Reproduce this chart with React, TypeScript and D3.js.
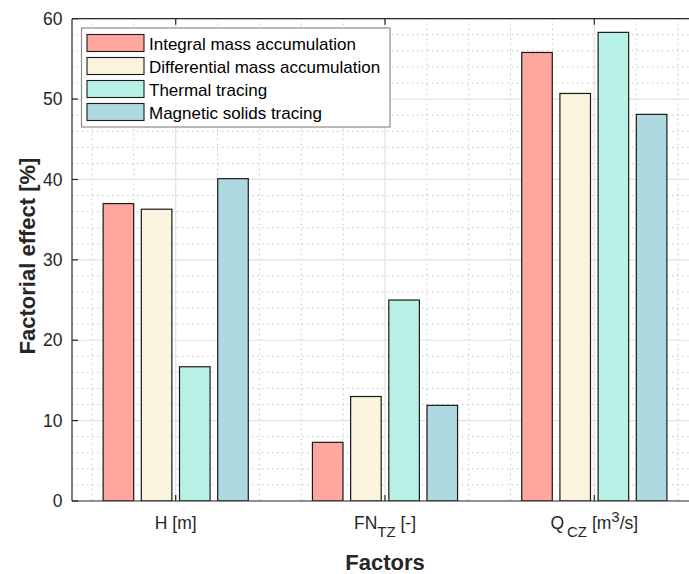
import React from "react";
import * as d3 from "d3";

// Factor names (rendered with sub/superscripts below)
const categories = ["H", "FN_TZ", "Q_CZ"];
const seriesNames = [
  "Integral mass accumulation",
  "Differential mass accumulation",
  "Thermal tracing",
  "Magnetic solids tracing",
];
const integralMass = [37.0, 7.3, 55.8];
const differentialMass = [36.3, 13.0, 50.7];
const thermalTracing = [16.7, 25.0, 58.3];
const magneticTracing = [40.1, 11.9, 48.1];
const seriesValues = [integralMass, differentialMass, thermalTracing, magneticTracing];
const seriesColors = ["#FFA69E", "#FAF3DD", "#B8F2E6", "#AED9E0"];
const yTicks = [0, 10, 20, 30, 40, 50, 60];

const W = 689;
const H = 574;
const left = 72;
const right = 699;
const top = 18.7;
const bottom = 501;

const FONT = "'Liberation Sans', Arial, Helvetica, sans-serif";
const TXT = "#262626";
const TICK_FS = 17.5;
const SUB_FS = 15;

function CategoryLabel({ name, x, y }: { name: string; x: number; y: number }) {
  if (name === "H") {
    return (
      <text x={x} y={y} textAnchor="middle" fontSize={TICK_FS} fill={TXT}>
        H [m]
      </text>
    );
  }
  if (name === "FN_TZ") {
    return (
      <text x={x} y={y} textAnchor="middle" fontSize={TICK_FS} fill={TXT}>
        FN
        <tspan fontSize={SUB_FS} dy={8}>TZ</tspan>
        <tspan dy={-8}> [-]</tspan>
      </text>
    );
  }
  return (
    <text x={x} y={y} textAnchor="middle" fontSize={TICK_FS} fill={TXT}>
      Q
      <tspan fontSize={SUB_FS} dy={8} dx={3}>CZ</tspan>
      <tspan dy={-8}> [m</tspan>
      <tspan fontSize={SUB_FS} dy={-7}>3</tspan>
      <tspan dy={7}>/s]</tspan>
    </text>
  );
}

export default function App() {
  const x = d3.scaleLinear().domain([1, 3]).range([175.7, 594.3]);
  const y = d3.scaleLinear().domain([0, 60]).range([bottom, top]);

  const groupStep = 0.1825;
  const barW = 0.146;
  const pxPerUnit = x(2) - x(1);

  // minor grids
  const minorY = d3.range(2, 60, 2).filter((v) => v % 10 !== 0);
  const minorX = d3
    .range(0.6, 3.5, 0.2)
    .map((v) => Math.round(v * 10) / 10)
    .filter((v) => Math.abs(v - Math.round(v)) > 0.01);

  const legendX = 81.5;
  const legendY = 28;
  const rowH = 23;

  return (
    <svg
      width={W}
      height={H}
      style={{ position: "absolute", left: 0, top: 0, background: "#fff" }}
      fontFamily={FONT}
    >
      <rect x={0} y={0} width={W} height={H} fill="#fff" />
      <defs>
        <clipPath id="plotClip">
          <rect x={left} y={top} width={right - left} height={bottom - top} />
        </clipPath>
      </defs>

      <g clipPath="url(#plotClip)">
        {/* minor grid */}
        {minorY.map((v) => (
          <line key={"my" + v} x1={left} x2={right} y1={y(v)} y2={y(v)} stroke="#c4c4c4" strokeWidth={1} strokeDasharray="1.5,3.5" />
        ))}
        {minorX.map((v) => (
          <line key={"mx" + v} x1={x(v)} x2={x(v)} y1={top} y2={bottom} stroke="#c4c4c4" strokeWidth={1} strokeDasharray="1.5,3.5" />
        ))}
        {/* major grid */}
        {yTicks.map((v) => (
          <line key={"gy" + v} x1={left} x2={right} y1={y(v)} y2={y(v)} stroke="#e2e2e2" strokeWidth={1.2} />
        ))}
        {[1, 2, 3].map((v) => (
          <line key={"gx" + v} x1={x(v)} x2={x(v)} y1={top} y2={bottom} stroke="#e2e2e2" strokeWidth={1.2} />
        ))}

        {/* bars */}
        {seriesValues.map((vals, si) =>
          vals.map((v, ci) => {
            const cx = x(ci + 1 + (si - 1.5) * groupStep);
            const w = barW * pxPerUnit;
            return (
              <rect
                key={si + "-" + ci}
                x={cx - w / 2}
                y={y(v)}
                width={w}
                height={y(0) - y(v)}
                fill={seriesColors[si]}
                stroke="#1a1a1a"
                strokeWidth={1.2}
              />
            );
          })
        )}
      </g>

      {/* axes box */}
      <line x1={left} x2={right} y1={bottom} y2={bottom} stroke={TXT} strokeWidth={1.2} />
      <line x1={left} x2={right} y1={top} y2={top} stroke={TXT} strokeWidth={1.2} />
      <line x1={left} x2={left} y1={top} y2={bottom} stroke={TXT} strokeWidth={1.2} />

      {/* y ticks */}
      {yTicks.map((v) => (
        <g key={"yt" + v}>
          <line x1={left} x2={left + 6} y1={y(v)} y2={y(v)} stroke={TXT} strokeWidth={1.2} />
          <text x={left - 9.5} y={y(v) + 6.2} textAnchor="end" fontSize={TICK_FS} fill={TXT}>
            {v}
          </text>
        </g>
      ))}

      {/* x ticks */}
      {[1, 2, 3].map((v) => (
        <g key={"xt" + v}>
          <line x1={x(v)} x2={x(v)} y1={bottom} y2={bottom - 6} stroke={TXT} strokeWidth={1.2} />
          <line x1={x(v)} x2={x(v)} y1={top} y2={top + 6} stroke={TXT} strokeWidth={1.2} />
          <CategoryLabel name={categories[v - 1]} x={x(v)} y={528.5} />
        </g>
      ))}

      {/* axis titles */}
      <text
        transform={`translate(35, 256) rotate(-90)`}
        textAnchor="middle"
        fontSize={22}
        fontWeight="bold"
        fill={TXT}
      >
        Factorial effect [%]
      </text>
      <text x={385} y={569.5} textAnchor="middle" fontSize={22} fontWeight="bold" fill={TXT}>
        Factors
      </text>

      {/* legend */}
      <rect x={legendX} y={legendY} width={308.5} height={99} fill="#fff" stroke="#8c8c8c" strokeWidth={1.2} />
      {seriesNames.map((name, i) => (
        <g key={name}>
          <rect
            x={87}
            y={34.5 + i * rowH}
            width={57}
            height={17}
            fill={seriesColors[i]}
            stroke="#1a1a1a"
            strokeWidth={1.1}
          />
          <text x={149} y={49.5 + i * rowH} fontSize={17} fill="#000">
            {name}
          </text>
        </g>
      ))}
    </svg>
  );
}
